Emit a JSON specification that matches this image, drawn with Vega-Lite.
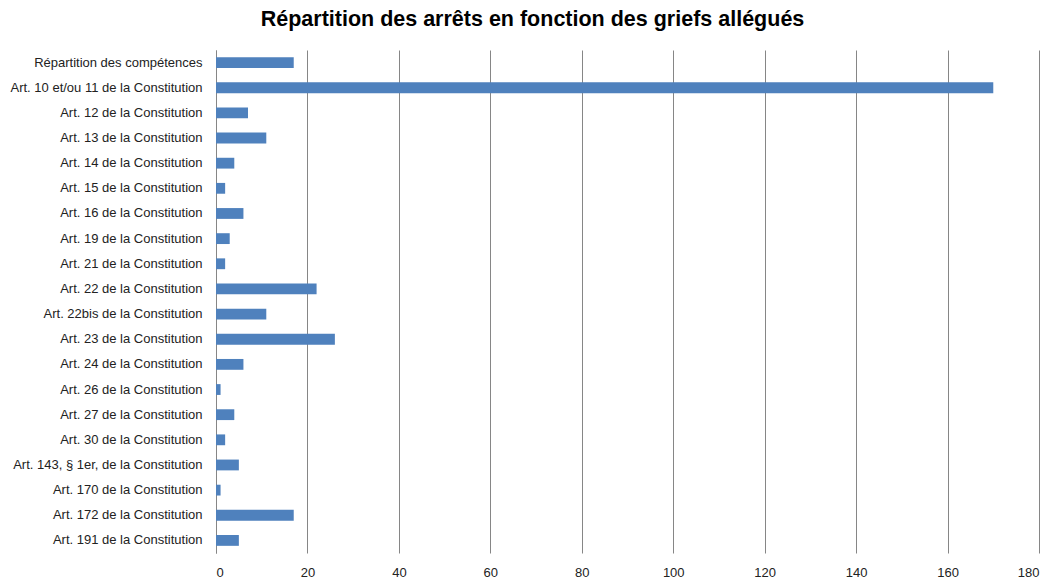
{
  "$schema": "https://vega.github.io/schema/vega-lite/v6.json",
  "autosize": "none",
  "width": 823,
  "height": 503,
  "padding": {"left": 216, "top": 50, "right": 12, "bottom": 28},
  "background": "white",
  "title": {
    "text": "Répartition des arrêts en fonction des griefs allégués",
    "font": "Liberation Sans",
    "fontSize": 21.5,
    "fontWeight": "bold",
    "color": "#000000",
    "anchor": "middle",
    "dx": -95,
    "offset": 20
  },
  "data": {
    "values": [
      {"grief": "Répartition des compétences", "n": 17},
      {"grief": "Art. 10 et/ou 11 de la Constitution", "n": 170},
      {"grief": "Art. 12 de la Constitution", "n": 7},
      {"grief": "Art. 13 de la Constitution", "n": 11},
      {"grief": "Art. 14 de la Constitution", "n": 4},
      {"grief": "Art. 15 de la Constitution", "n": 2},
      {"grief": "Art. 16 de la Constitution", "n": 6},
      {"grief": "Art. 19 de la Constitution", "n": 3},
      {"grief": "Art. 21 de la Constitution", "n": 2},
      {"grief": "Art. 22 de la Constitution", "n": 22},
      {"grief": "Art. 22bis de la Constitution", "n": 11},
      {"grief": "Art. 23 de la Constitution", "n": 26},
      {"grief": "Art. 24 de la Constitution", "n": 6},
      {"grief": "Art. 26 de la Constitution", "n": 1},
      {"grief": "Art. 27 de la Constitution", "n": 4},
      {"grief": "Art. 30 de la Constitution", "n": 2},
      {"grief": "Art. 143, § 1er, de la Constitution", "n": 5},
      {"grief": "Art. 170 de la Constitution", "n": 1},
      {"grief": "Art. 172 de la Constitution", "n": 17},
      {"grief": "Art. 191 de la Constitution", "n": 5}
    ]
  },
  "mark": {"type": "bar", "color": "#4F81BD"},
  "encoding": {
    "y": {
      "field": "grief",
      "type": "nominal",
      "sort": null,
      "title": null,
      "scale": {"paddingInner": 0.57, "paddingOuter": 0.285},
      "axis": {
        "domainColor": "#868686",
        "ticks": false,
        "labelPadding": 14,
        "labelFont": "Liberation Sans",
        "labelFontSize": 13,
        "labelColor": "#222222",
        "grid": false,
        "labelLimit": 300
      }
    },
    "x": {
      "field": "n",
      "type": "quantitative",
      "title": null,
      "scale": {"domain": [0, 180], "nice": false},
      "axis": {
        "values": [0, 20, 40, 60, 80, 100, 120, 140, 160, 180],
        "domain": false,
        "ticks": false,
        "grid": true,
        "gridColor": "#868686",
        "gridWidth": 1,
        "labelFont": "Liberation Sans",
        "labelFontSize": 13,
        "labelColor": "#222222",
        "labelPadding": 13
      }
    }
  },
  "config": {"view": {"stroke": null}}
}
